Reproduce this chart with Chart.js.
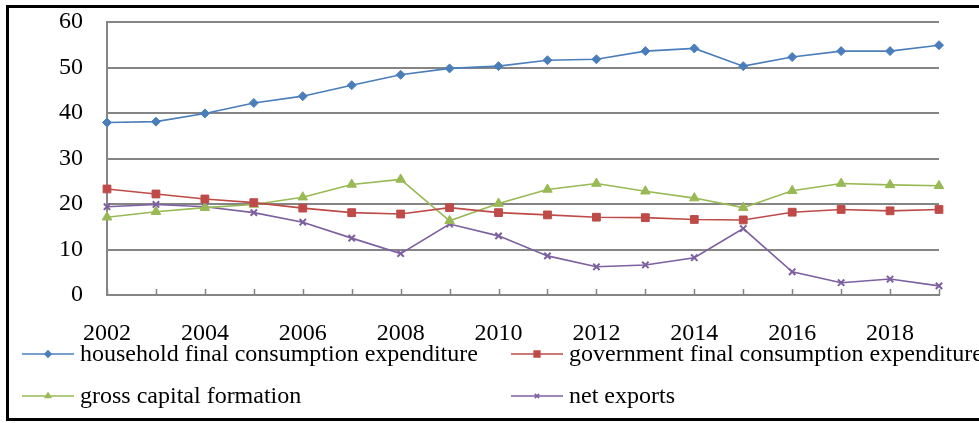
<!DOCTYPE html>
<html>
<head>
<meta charset="utf-8">
<script src="https://cdn.jsdelivr.net/npm/chart.js@4/dist/chart.umd.min.js"></script>
<style>
  html, body { margin: 0; padding: 0; background: #fff; overflow: hidden; }
  #wrap { position: relative; width: 979px; height: 423px; }
  #frame {
    position: absolute; left: 6px; top: 5px; width: 1000px; height: 410px;
    border: 3px solid #000; box-sizing: content-box; pointer-events: none;
  }
  canvas { position: absolute; left: 0; top: 0; }
</style>
</head>
<body>
<div id="wrap">
  <canvas id="shareChart" width="979" height="423"></canvas>
  <div id="frame"></div>
</div>
<script>
const years = ["2002", "2003", "2004", "2005", "2006", "2007", "2008", "2009", "2010",
  "2011", "2012", "2013", "2014", "2015", "2016", "2017", "2018", "2019"];

const household = [37.9, 38.1, 39.9, 42.2, 43.7, 46.1, 48.4, 49.8, 50.3,
  51.6, 51.8, 53.6, 54.2, 50.3, 52.3, 53.6, 53.6, 54.9];
const government = [23.3, 22.2, 21.1, 20.3, 19.1, 18.1, 17.8, 19.2, 18.1,
  17.6, 17.1, 17.0, 16.6, 16.5, 18.2, 18.8, 18.5, 18.8];
const capital = [17.1, 18.3, 19.2, 19.9, 21.5, 24.3, 25.4, 16.3, 20.1,
  23.2, 24.5, 22.8, 21.3, 19.2, 22.9, 24.5, 24.2, 24.0];
const netExports = [19.4, 19.9, 19.4, 18.1, 16.0, 12.5, 9.1, 15.6, 13.0,
  8.6, 6.2, 6.6, 8.2, 14.6, 5.1, 2.7, 3.5, 2.0];

const seriesNames = [
  "household final consumption expenditure",
  "government final consumption expenditure",
  "gross capital formation",
  "net exports"
];

const gridColor = "#858585";
const fontFamily = "'Liberation Serif', 'Times New Roman', serif";

Chart.defaults.font.family = fontFamily;
Chart.defaults.font.size = 24;
Chart.defaults.color = "#000";

function makeSeries(label, data, color, pointStyle, radius) {
  return {
    label,
    data,
    borderColor: color,
    backgroundColor: color,
    pointBackgroundColor: color,
    pointBorderColor: color,
    pointStyle,
    pointRadius: radius,
    pointBorderWidth: pointStyle === "crossRot" ? 2 : 1,
    borderWidth: 1.6,
    tension: 0
  };
}

// short tick marks pointing up from the category axis
const innerTicks = {
  id: "innerTicks",
  afterDatasetsDraw(chart) {
    const x = chart.scales.x;
    const ctx = chart.ctx;
    const bottom = chart.chartArea.bottom;
    ctx.save();
    ctx.strokeStyle = gridColor;
    ctx.lineWidth = 1.5;
    ctx.beginPath();
    years.forEach((year, i) => {
      const px = Math.round(x.getPixelForValue(i)) + 0.5;
      ctx.moveTo(px, bottom);
      ctx.lineTo(px, bottom - 6);
    });
    ctx.stroke();
    ctx.restore();
  }
};

// two-column legend under the axis labels
const gridLegend = {
  id: "gridLegend",
  afterDraw(chart) {
    const ctx = chart.ctx;
    const columns = [22, 511];
    const rows = [354, 396];
    ctx.save();
    chart.data.datasets.forEach((ds, i) => {
      const x0 = columns[i % 2];
      const y0 = rows[Math.floor(i / 2)];
      ctx.strokeStyle = ds.borderColor;
      ctx.lineWidth = 1.6;
      ctx.beginPath();
      ctx.moveTo(x0, y0);
      ctx.lineTo(x0 + 52, y0);
      ctx.stroke();
      ctx.fillStyle = ds.borderColor;
      Chart.helpers.drawPoint(ctx, {
        pointStyle: ds.pointStyle,
        radius: ds.pointStyle === "rect" ? 4 : 3,
        borderWidth: ds.pointStyle === "crossRot" ? 1.5 : 1,
        rotation: 0
      }, x0 + 26, y0);
      ctx.fillStyle = "#000";
      ctx.font = "24px " + fontFamily;
      ctx.textBaseline = "middle";
      ctx.textAlign = "left";
      ctx.fillText(ds.label, x0 + 58, y0 + 1);
    });
    ctx.restore();
  }
};

new Chart(document.getElementById("shareChart"), {
  type: "line",
  data: {
    labels: years,
    datasets: [
      makeSeries(seriesNames[0], household, "#4A7EBB", "rectRot", 4.5),
      makeSeries(seriesNames[1], government, "#BE4B48", "rect", 5.5),
      makeSeries(seriesNames[2], capital, "#98B954", "triangle", 5.5),
      makeSeries(seriesNames[3], netExports, "#7D60A0", "crossRot", 4.5)
    ]
  },
  options: {
    responsive: false,
    animation: false,
    layout: {
      autoPadding: false,
      padding: { left: 0, right: 40, top: 22, bottom: 0 }
    },
    plugins: {
      legend: { display: false },
      tooltip: { enabled: false }
    },
    scales: {
      x: {
        afterFit: scale => { scale.height = 128; },
        grid: { display: false, drawTicks: false },
        border: { display: true, color: gridColor, width: 2 },
        ticks: {
          autoSkip: false,
          maxRotation: 0,
          padding: 24,
          callback: (value, index) => (index % 2 === 0 ? years[index] : "")
        }
      },
      y: {
        min: 0,
        max: 60,
        afterFit: scale => { scale.width = 107; },
        // invisible tick stubs keep the labels clear of the axis
        grid: {
          color: gridColor,
          lineWidth: 2,
          drawTicks: true,
          tickLength: 24,
          tickColor: "rgba(0,0,0,0)"
        },
        border: { display: true, color: gridColor, width: 2 },
        ticks: { stepSize: 10, padding: 0 }
      }
    }
  },
  plugins: [innerTicks, gridLegend]
});
</script>
</body>
</html>
